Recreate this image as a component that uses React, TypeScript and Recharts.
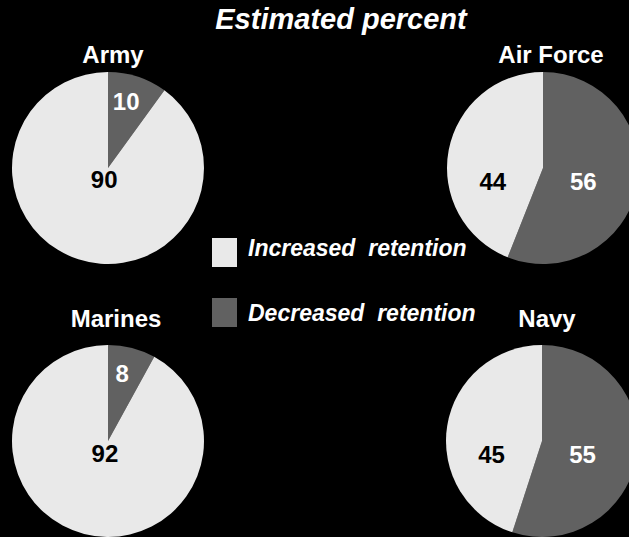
import React from 'react';
import { PieChart, Pie, Cell, Customized } from 'recharts';

// ---- data ----
const services = ['Army', 'Air Force', 'Marines', 'Navy'];
const categories = ['Decreased retention', 'Increased retention'];
const decreased = [10, 56, 8, 55];
const increased = [90, 44, 92, 45];
const chartTitle = 'Estimated percent';

// ---- layout / style ----
const W = 629;
const H = 537;
const FONT = '"Liberation Sans", Arial, Helvetica, sans-serif';
const LIGHT = '#e9e9e9';
const DARK = '#616161';
const colors = [DARK, LIGHT];
const labelColors = ['#ffffff', '#000000'];
const R = 96;
const pieCenters = [
  { cx: 108, cy: 168 },
  { cx: 543, cy: 168 },
  { cx: 108, cy: 441 },
  { cx: 542, cy: 441 },
];
const titlePos = [
  { x: 113, y: 63 },
  { x: 551, y: 63 },
  { x: 116, y: 327 },
  { x: 547, y: 327 },
];

const RAD = Math.PI / 180;

const renderLabel = (props: any) => {
  const { cx, cy, midAngle, outerRadius, percent, value, index } = props;
  let x: number;
  let y: number;
  if (percent >= 0.8) {
    const r = outerRadius * 0.13;
    x = cx + r * Math.cos(-midAngle * RAD);
    y = cy + r * Math.sin(-midAngle * RAD);
  } else if (percent <= 0.2) {
    const r = outerRadius * 0.68;
    x = cx - 2 + r * Math.cos(-midAngle * RAD);
    y = cy - 4 + r * Math.sin(-midAngle * RAD);
  } else {
    const r = outerRadius * 0.48;
    x = cx - 5 + r * Math.cos(-midAngle * RAD);
    y = cy + 13;
  }
  return (
    <text
      x={x}
      y={y}
      textAnchor="middle"
      dominantBaseline="central"
      fill={labelColors[index]}
      fontFamily={FONT}
      fontWeight="bold"
      fontSize={24}
    >
      {value}
    </text>
  );
};

const legendOrder = [1, 0];
const legendBoxY = [238, 298];
const legendTextY = [248, 313];
const legendBox = { x: 212, w: 25, h: 29 };

const Overlay = () => (
  <g>
    <text
      x={341}
      y={29}
      textAnchor="middle"
      fill="#ffffff"
      fontFamily={FONT}
      fontWeight="bold"
      fontStyle="italic"
      fontSize={29}
    >
      {chartTitle}
    </text>
    {services.map((s, i) => (
      <text
        key={s}
        x={titlePos[i].x}
        y={titlePos[i].y}
        textAnchor="middle"
        fill="#ffffff"
        fontFamily={FONT}
        fontWeight="bold"
        fontSize={24}
      >
        {s}
      </text>
    ))}
    {legendOrder.map((ci, k) => (
      <g key={categories[ci]}>
        <rect x={legendBox.x} y={legendBoxY[k]} width={legendBox.w} height={legendBox.h} fill={colors[ci]} />
        <text
          x={legendBox.x + legendBox.w + 11}
          y={legendTextY[k]}
          fill="#ffffff"
          fontFamily={FONT}
          fontWeight="bold"
          fontStyle="italic"
          fontSize={23}
          dominantBaseline="central"
          style={{ whiteSpace: 'pre' }}
          xmlSpace="preserve"
        >
          {categories[ci].replace(' ', '  ')}
        </text>
      </g>
    ))}
  </g>
);

export default function App() {
  const pies = services.map((s, i) => [
    { name: categories[0], value: decreased[i] },
    { name: categories[1], value: increased[i] },
  ]);
  return (
    <div style={{ position: 'fixed', left: 0, top: 0, width: W, height: H, background: '#000000', overflow: 'hidden' }}>
      <PieChart width={W} height={H} margin={{ top: 0, right: 0, bottom: 0, left: 0 }}>
        {pies.map((d, i) => (
          <Pie
            key={services[i]}
            data={d}
            dataKey="value"
            nameKey="name"
            cx={pieCenters[i].cx}
            cy={pieCenters[i].cy}
            outerRadius={R}
            startAngle={90}
            endAngle={-270}
            stroke="none"
            label={renderLabel}
            labelLine={false}
            isAnimationActive={false}
          >
            {d.map((e, j) => (
              <Cell key={e.name} fill={colors[j]} />
            ))}
          </Pie>
        ))}
        <Customized component={Overlay} />
      </PieChart>
    </div>
  );
}
